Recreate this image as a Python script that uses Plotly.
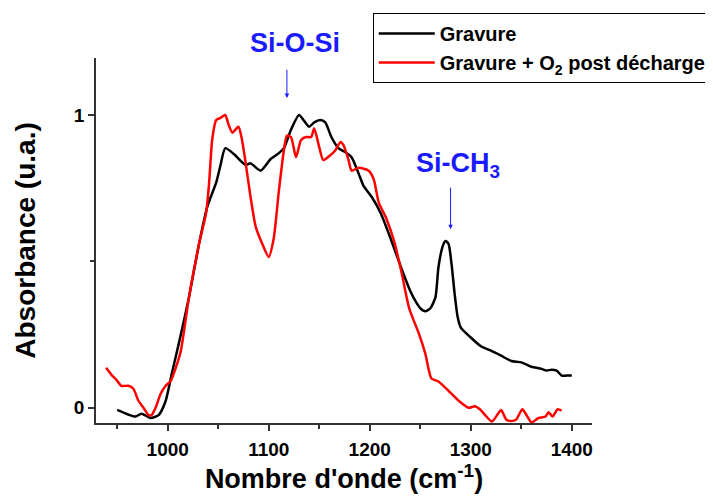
import plotly.graph_objects as go

# Spectres FTIR
wn_gravure = [950, 968, 974, 983, 991, 998, 1004, 1011, 1021, 1031, 1039, 1048, 1052,
              1057, 1066, 1077, 1082, 1092, 1102, 1110, 1115, 1122, 1130, 1135, 1140,
              1145, 1151, 1156, 1162, 1169, 1176, 1182, 1189, 1194, 1202, 1211, 1221,
              1232, 1240, 1245, 1250, 1255, 1260, 1265, 1268, 1272, 1275, 1278, 1281,
              1284, 1287, 1290, 1300, 1310, 1320, 1330, 1340, 1350, 1360, 1370, 1375,
              1380, 1385, 1390, 1395, 1400]
abs_gravure = [-0.007, -0.03, -0.02, -0.035, -0.025, 0.024, 0.116, 0.22, 0.377, 0.56,
               0.685, 0.77, 0.825, 0.887, 0.865, 0.83, 0.835, 0.81, 0.85, 0.87, 0.887,
               0.95, 1.0, 0.98, 0.96, 0.975, 0.983, 0.975, 0.925, 0.887, 0.873, 0.856,
               0.80, 0.757, 0.72, 0.664, 0.575, 0.47, 0.40, 0.366, 0.34, 0.33, 0.34,
               0.377, 0.48, 0.55, 0.57, 0.56, 0.49, 0.39, 0.31, 0.275, 0.24, 0.21,
               0.195, 0.178, 0.16, 0.155, 0.14, 0.133, 0.127, 0.13, 0.127, 0.11, 0.11,
               0.11]

wn_o2 = [939, 945, 950, 954, 961, 966, 971, 976, 981, 984, 988, 993, 998, 1003, 1008,
         1013, 1021, 1031, 1038, 1041, 1044, 1048, 1052, 1057, 1060, 1064, 1070, 1073,
         1077, 1082, 1087, 1093, 1100, 1105, 1110, 1115, 1118, 1122, 1127, 1132, 1137,
         1142, 1145, 1150, 1154, 1161, 1166, 1171, 1174, 1179, 1182, 1189, 1199, 1204,
         1209, 1216, 1224, 1231, 1239, 1249, 1255, 1261, 1268, 1278, 1288, 1298, 1304,
         1309, 1314, 1321, 1330, 1335, 1340, 1345, 1351, 1356, 1360, 1367, 1374, 1377,
         1381, 1386, 1390]
abs_o2 = [0.137, 0.11, 0.092, 0.075, 0.075, 0.065, 0.024, 0.0, -0.025, -0.025, 0.0,
          0.048, 0.075, 0.092, 0.137, 0.195, 0.377, 0.56, 0.665, 0.77, 0.915, 0.983,
          0.99, 1.0, 0.97, 0.94, 0.96, 0.925, 0.84, 0.72, 0.62, 0.565, 0.515, 0.58,
          0.74, 0.88, 0.93, 0.925, 0.856, 0.915, 0.925, 0.925, 0.955, 0.89, 0.846,
          0.863, 0.88, 0.908, 0.897, 0.846, 0.81, 0.82, 0.81, 0.78, 0.70, 0.65, 0.57,
          0.47, 0.34, 0.25, 0.185, 0.10, 0.09, 0.058, 0.024, 0.0, 0.005, -0.005,
          -0.024, -0.047, -0.008, -0.04, -0.045, -0.04, -0.005, -0.03, -0.05, -0.035,
          -0.03, -0.015, -0.03, -0.005, -0.01]

FONT = "Arial, Liberation Sans, sans-serif"
BLUE = "#1a1aff"

fig = go.Figure()

fig.add_trace(go.Scatter(
    x=wn_gravure, y=abs_gravure, mode="lines",
    line=dict(color="black", width=2.5, shape="spline", smoothing=0.6),
    name="Gravure"
))
fig.add_trace(go.Scatter(
    x=wn_o2, y=abs_o2, mode="lines",
    line=dict(color="#ff0000", width=2.5, shape="spline", smoothing=0.6),
    name="Gravure + O<sub>2</sub> post décharge"
))

# Labels des bandes
fig.add_annotation(x=1118, y=1.058, ax=1118, ay=1.16, axref="x", ayref="y",
                   showarrow=True, arrowhead=2, arrowsize=0.9, arrowwidth=1,
                   arrowcolor=BLUE, text="")
fig.add_annotation(x=1126, y=1.041, xref="x", yref="paper", yanchor="middle",
                   text="<b>Si-O-Si</b>", showarrow=False,
                   font=dict(family=FONT, size=27, color=BLUE))
fig.add_annotation(x=1280, y=0.61, ax=1280, ay=0.757, axref="x", ayref="y",
                   showarrow=True, arrowhead=2, arrowsize=0.9, arrowwidth=1,
                   arrowcolor=BLUE, text="")
fig.add_annotation(x=1287, y=0.83, yanchor="middle", text="<b>Si-CH<sub>3</sub></b>",
                   showarrow=False, font=dict(family=FONT, size=27, color=BLUE))

fig.update_layout(
    width=713, height=497,
    margin=dict(l=88, r=129, t=50, b=82, autoexpand=False),
    plot_bgcolor="white", paper_bgcolor="white",
    font=dict(family=FONT, color="black"),
    showlegend=True,
    legend=dict(
        x=0.558, y=1.123, xanchor="left", yanchor="top",
        bordercolor="black", borderwidth=1, bgcolor="white", itemwidth=56,
        font=dict(family=FONT, size=20, weight="bold")
    ),
    xaxis=dict(
        range=[929, 1420], tick0=0, dtick=100, automargin=False,
        showline=True, linecolor="#333", linewidth=1.5,
        ticks="outside", ticklen=6, tickwidth=1.5, tickcolor="#333",
        minor=dict(dtick=50, tick0=0, ticks="outside", ticklen=4, tickcolor="#333"),
        showgrid=False, zeroline=False, ticklabelstandoff=2,
        tickfont=dict(family=FONT, size=19, weight="bold"),
        title=dict(text="<b>Nombre d'onde (cm<sup>-1</sup>)</b>",
                   font=dict(family=FONT, size=27), standoff=10)
    ),
    yaxis=dict(
        range=[-0.052, 1.195], tickvals=[0, 1], ticktext=["0", "1"], automargin=False,
        showline=True, linecolor="#333", linewidth=1.5,
        ticks="outside", ticklen=6, tickwidth=1.5, tickcolor="#333",
        minor=dict(tickvals=[0.5], ticks="outside", ticklen=4, tickcolor="#333"),
        showgrid=False, zeroline=False,
        tickfont=dict(family=FONT, size=19, weight="bold"),
        title=dict(text="<b>Absorbance (u.a.)</b>",
                   font=dict(family=FONT, size=28), standoff=30)
    )
)

fig.write_html("out.html")
